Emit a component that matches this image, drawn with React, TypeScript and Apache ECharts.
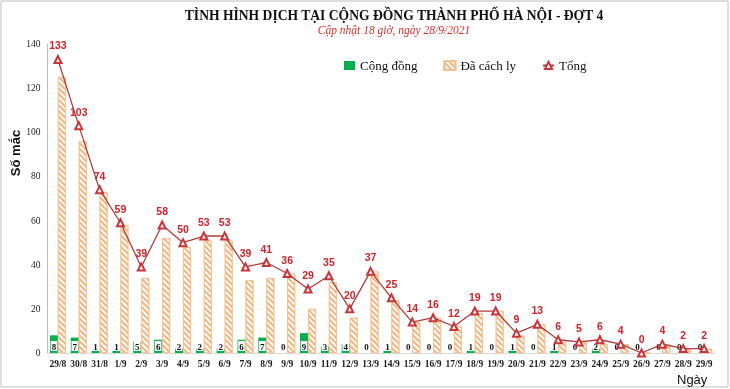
import React, { useEffect, useRef } from 'react';
import * as echarts from 'echarts';

const dates = ['29/8', '30/8', '31/8', '1/9', '2/9', '3/9', '4/9', '5/9', '6/9', '7/9', '8/9', '9/9', '10/9', '11/9', '12/9', '13/9', '14/9', '15/9', '16/9', '17/9', '18/9', '19/9', '20/9', '21/9', '22/9', '23/9', '24/9', '25/9', '26/9', '27/9', '28/9', '29/9'];
const community = [8, 7, 1, 1, 5, 6, 2, 2, 2, 6, 7, 0, 9, 3, 4, 0, 1, 0, 0, 0, 1, 0, 1, 0, 1, 0, 2, 0, 0, 0, 0, 0];
const quarantined = [125, 96, 73, 58, 34, 52, 48, 51, 51, 33, 34, 36, 20, 32, 16, 37, 24, 14, 16, 12, 18, 19, 8, 13, 5, 5, 4, 4, 0, 4, 2, 2];
const totals = [133, 103, 74, 59, 39, 58, 50, 53, 53, 39, 41, 36, 29, 35, 20, 37, 25, 14, 16, 12, 19, 19, 9, 13, 6, 5, 6, 4, 0, 4, 2, 2];
const seriesNames = ['Cộng đồng', 'Đã cách ly', 'Tổng'];
const titleText = 'TÌNH HÌNH DỊCH TẠI CỘNG ĐỒNG THÀNH PHỐ HÀ NỘI - ĐỢT 4';
const subtitleText = 'Cập nhật 18 giờ, ngày 28/9/2021';
const yName = 'Số mắc';
const xName = 'Ngày';

export default function App() {
  const ref = useRef<HTMLDivElement>(null);
  useEffect(() => {
    const chart = echarts.init(ref.current!, null, { renderer: 'svg' });
    chart.setOption({
      animation: false,
      grid: { left: 47.5, right: 15.5, top: 44, bottom: 36, containLabel: false },
      legend: {
        left: 339,
        top: 54,
        itemWidth: 11,
        itemHeight: 9,
        itemGap: 26,
        textStyle: { fontFamily: 'Liberation Serif', fontSize: 13, color: '#111' },
        data: [
          { name: seriesNames[0], icon: 'rect' },
          { name: seriesNames[1], icon: 'rect' },
          { name: seriesNames[2] },
        ],
      },
      xAxis: {
        type: 'category',
        data: dates,
        axisLine: { lineStyle: { color: '#d9d9d9' } },
        axisTick: { show: false },
        axisLabel: {
          interval: 0,
          fontFamily: 'Liberation Serif',
          fontSize: 9.5,
          fontWeight: 'bold',
          color: '#1a1a1a',
          margin: 6,
        },
      },
      yAxis: {
        type: 'value',
        min: 0,
        max: 140,
        interval: 20,
        splitLine: { show: false },
        axisLine: { show: true, lineStyle: { color: '#bfbfbf' } },
        axisTick: { show: false },
        axisLabel: { fontFamily: 'Liberation Serif', fontSize: 9.5, color: '#222', margin: 7 },
      },
      graphic: [
        {
          type: 'rect',
          shape: { x: 1, y: 1, width: 727, height: 386 },
          style: { fill: 'none', stroke: '#bdbdbd', lineWidth: 1 },
          silent: true,
        },
        {
          type: 'text',
          x: 394,
          y: 15,
          style: {
            text: titleText,
            fontFamily: 'Liberation Serif',
            fontWeight: 'bold',
            fontSize: 13.6,
            fill: '#111',
            textAlign: 'center',
            textVerticalAlign: 'middle',
          },
        },
        {
          type: 'text',
          x: 394,
          y: 30,
          style: {
            text: subtitleText,
            fontFamily: 'Liberation Serif',
            fontStyle: 'italic',
            fontSize: 11.5,
            fill: '#d9312b',
            textAlign: 'center',
            textVerticalAlign: 'middle',
          },
        },
        {
          type: 'text',
          x: 15,
          y: 153,
          rotation: Math.PI / 2,
          style: {
            text: yName,
            fontFamily: 'Liberation Sans',
            fontWeight: 'bold',
            fontSize: 13,
            fill: '#111',
            textAlign: 'center',
            textVerticalAlign: 'middle',
          },
        },
        {
          type: 'text',
          x: 677,
          y: 379,
          style: {
            text: xName,
            fontFamily: 'Liberation Sans',
            fontSize: 13,
            fill: '#111',
            textAlign: 'left',
            textVerticalAlign: 'middle',
          },
        },
      ],
      series: [
        {
          name: seriesNames[0],
          type: 'bar',
          data: community,
          barWidth: 8,
          barGap: '0%',
          itemStyle: { color: '#00b050' },
          label: {
            show: true,
            position: 'insideBottom',
            distance: 2,
            fontFamily: 'Liberation Serif',
            fontWeight: 'bold',
            fontSize: 9,
            color: '#111',
            backgroundColor: '#fff',
            padding: [1, 1, 0, 1],
          },
        },
        {
          name: seriesNames[1],
          type: 'bar',
          data: quarantined,
          barWidth: 8,
          barGap: '0%',
          itemStyle: {
            color: '#ffffff',
            borderColor: '#f4c196',
            borderWidth: 0.8,
            decal: {
              symbol: 'rect',
              symbolSize: 1,
              dashArrayX: [1, 0],
              dashArrayY: [1.2, 1.8],
              rotation: Math.PI / 4,
              color: '#f0b47c',
            },
          },
        },
        {
          name: seriesNames[2],
          type: 'line',
          data: totals,
          symbol: 'emptyTriangle',
          symbolSize: 7,
          lineStyle: { color: '#b43b3b', width: 1.3 },
          itemStyle: { color: '#c9353a' },
          label: {
            show: true,
            position: 'top',
            distance: 4,
            fontFamily: 'Liberation Sans',
            fontWeight: 'bold',
            fontSize: 10.5,
            color: '#d1232a',
          },
        },
      ],
    });
    return () => chart.dispose();
  }, []);
  return <div ref={ref} style={{ position: 'fixed', left: 0, top: 0, width: 730, height: 389 }} />;
}
